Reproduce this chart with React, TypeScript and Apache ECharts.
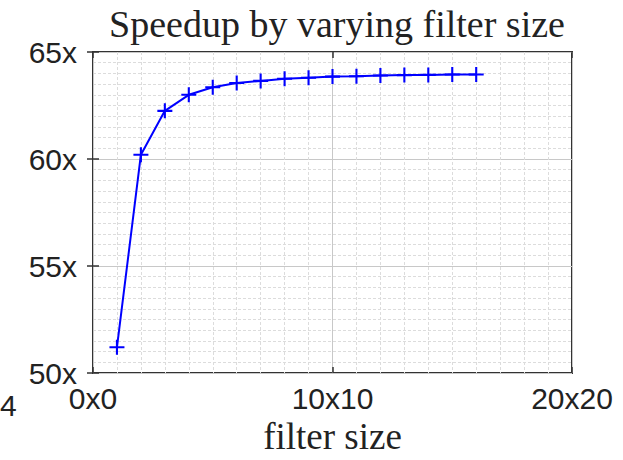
import React, { useEffect, useRef } from "react";
import * as echarts from "echarts";

const filterSizes = [1, 2, 3, 4, 5, 6, 7, 8, 9, 10, 11, 12, 13, 14, 15, 16];
const speedups = [51.2, 60.2, 62.25, 63.0, 63.35, 63.55, 63.65, 63.75, 63.8, 63.85, 63.87, 63.9, 63.92, 63.93, 63.95, 63.95];
const xTickLabels: Record<number, string> = { 0: "0x0", 10: "10x10", 20: "20x20" };
const yTickLabels: Record<number, string> = { 50: "50x", 55: "55x", 60: "60x", 65: "65x" };

const PLUS = "path://M0,4.3 H10 V5.7 H0 Z M4.3,0 H5.7 V10 H4.3 Z";

export default function App() {
  const ref = useRef<HTMLDivElement>(null);
  useEffect(() => {
    if (!ref.current) return;
    const chart = echarts.init(ref.current, undefined, { renderer: "svg" });
    const sans = "Liberation Sans";
    const serif = "Liberation Serif";
    const minorSplit = { show: true, lineStyle: { color: "#dcdcdc", type: [3, 2] as any, width: 1 } };
    chart.setOption({
      animation: false,
      backgroundColor: "#ffffff",
      title: {
        text: "Speedup by varying filter size",
        left: 332,
        textAlign: "center",
        top: 0,
        textStyle: { fontFamily: serif, fontWeight: "normal", fontSize: 38, color: "#222" },
      },
      grid: { left: 93, right: 51, top: 52, bottom: 67, show: true, borderColor: "#333", borderWidth: 2, backgroundColor: "transparent" },
      graphic: [
        { type: "text", left: 0, top: 390, style: { text: "4", font: `30px ${sans}`, fill: "#222" } },
      ],
      xAxis: [
        {
          type: "value", min: 0, max: 20, interval: 10, position: "bottom",
          name: "filter size", nameLocation: "middle", nameGap: 45,
          nameTextStyle: { fontFamily: serif, fontSize: 37, color: "#222" },
          axisLine: { show: false },
          axisTick: { show: true, inside: true, length: 6, lineStyle: { color: "#333", width: 1.5 } },
          axisLabel: { fontFamily: sans, fontSize: 30, color: "#222", margin: 10, formatter: (v: number) => xTickLabels[v] ?? "" },
          splitLine: { show: true, lineStyle: { color: "#c8c8c8", width: 1 } },
          minorTick: { show: false, splitNumber: 10 },
          minorSplitLine: minorSplit,
        },
        {
          type: "value", min: 0, max: 20, interval: 10, position: "top",
          axisLine: { show: false },
          axisTick: { show: true, inside: true, length: 6, lineStyle: { color: "#333", width: 1.5 } },
          axisLabel: { show: false }, splitLine: { show: false },
        },
      ],
      yAxis: [
        {
          type: "value", min: 50, max: 65, interval: 5, position: "left",
          axisLine: { show: false },
          axisTick: { show: true, inside: true, length: 6, lineStyle: { color: "#333", width: 1.5 } },
          axisLabel: { fontFamily: sans, fontSize: 30, color: "#222", margin: 16, formatter: (v: number) => yTickLabels[v] ?? "" },
          splitLine: { show: true, lineStyle: { color: "#c8c8c8", width: 1 } },
          minorTick: { show: false, splitNumber: 10 },
          minorSplitLine: minorSplit,
        },
        {
          type: "value", min: 50, max: 65, interval: 5, position: "right",
          axisLine: { show: false },
          axisTick: { show: true, inside: true, length: 6, lineStyle: { color: "#333", width: 1.5 } },
          axisLabel: { show: false }, splitLine: { show: false },
        },
      ],
      series: [
        {
          type: "line",
          data: filterSizes.map((x, i) => [x, speedups[i]]),
          lineStyle: { color: "#0000ff", width: 2 },
          itemStyle: { color: "#0000ff" },
          symbol: PLUS,
          symbolSize: 15,
          showAllSymbol: true,
          z: 5,
        },
      ],
    });
    return () => chart.dispose();
  }, []);
  return <div ref={ref} style={{ position: "fixed", left: 0, top: 0, width: 623, height: 460 }} />;
}
